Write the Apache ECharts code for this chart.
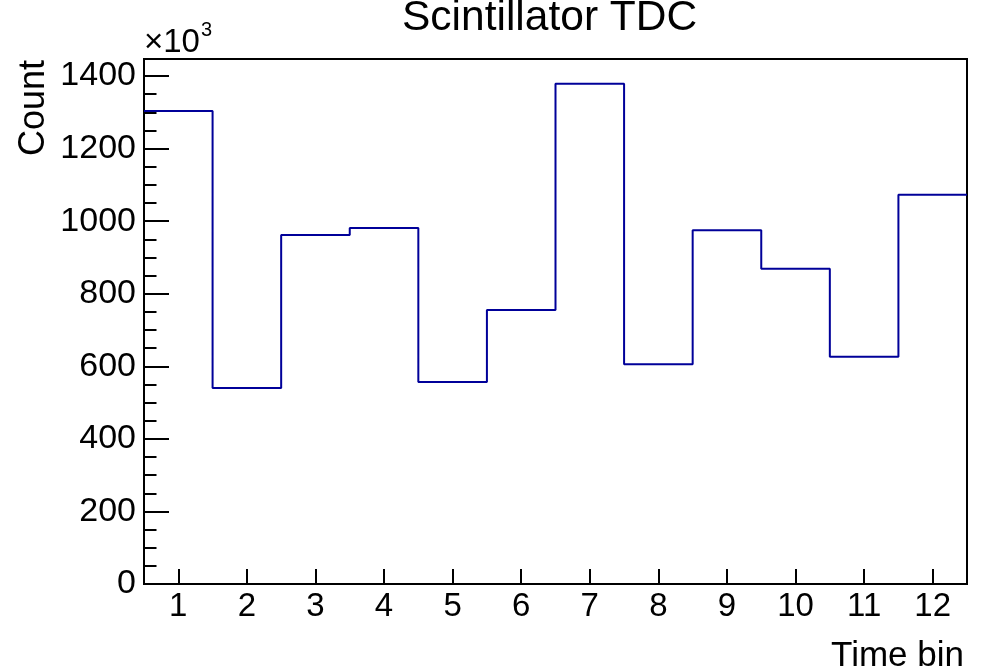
<!DOCTYPE html>
<html>
<head>
<meta charset="utf-8">
<script src="https://cdn.jsdelivr.net/npm/echarts@6/dist/echarts.min.js"></script>
<style>
html,body{margin:0;padding:0;background:#fff;}
#chart{width:982px;height:671px;}
</style>
</head>
<body>
<div id="chart"></div>
<script>
// Histogram data (counts in units of 10^3)
const binCenters = [1, 2, 3, 4, 5, 6, 7, 8, 9, 10, 11, 12];
const counts = [1304, 540, 962, 981, 557, 755, 1379, 606, 975, 869, 626, 1073];
const yMajorTicks = [0, 200, 400, 600, 800, 1000, 1200, 1400];
const yMinorTicks = [50, 100, 150, 250, 300, 350, 450, 500, 550, 650, 700, 750, 850, 900, 950, 1050, 1100, 1150, 1250, 1300, 1350];
const xLow = 0.5, xHigh = 12.5, yMax = 1447;

// step points at bin low edges, plus final high edge
const stepData = counts.map((v, i) => [binCenters[i] - 0.5, v]);
stepData.push([binCenters[binCenters.length - 1] + 0.5, counts[counts.length - 1]]);

const FONT = 'Liberation Sans';
const chart = echarts.init(document.getElementById('chart'), null, {renderer: 'canvas'});
chart.setOption({
  animation: false,
  backgroundColor: '#fff',
  title: {
    text: 'Scintillator TDC',
    left: 397, top: -8,
    textStyle: {fontFamily: FONT, fontSize: 42.5, fontWeight: 'normal', color: '#000'}
  },
  grid: {left: 144, top: 59, right: 15, bottom: 87, show: true, borderColor: '#000', borderWidth: 2, backgroundColor: 'transparent'},
  xAxis: {
    type: 'value', min: xLow, max: xHigh,
    axisLine: {show: true, lineStyle: {color: '#000', width: 2}},
    axisTick: {show: true, inside: true, length: 15, customValues: binCenters, lineStyle: {color: '#000', width: 2}},
    axisLabel: {show: true, customValues: binCenters, margin: 6, fontFamily: FONT, fontSize: 33, color: '#000',
      formatter: v => String(v)},
    splitLine: {show: false}
  },
  yAxis: [{
    type: 'value', min: 0, max: yMax,
    axisLine: {show: true, lineStyle: {color: '#000', width: 2}},
    axisTick: {show: true, inside: true, length: 25, customValues: yMajorTicks, lineStyle: {color: '#000', width: 2}},
    axisLabel: {show: true, customValues: yMajorTicks, margin: 8, fontFamily: FONT, fontSize: 34, color: '#000',
      padding: [5, 0, 0, 0], formatter: v => String(v)},
    splitLine: {show: false}
  }, {
    type: 'value', min: 0, max: yMax, position: 'left',
    axisLine: {show: false},
    axisTick: {show: true, inside: true, length: 12.5, customValues: yMinorTicks, lineStyle: {color: '#000', width: 2}},
    axisLabel: {show: false},
    splitLine: {show: false}
  }],
  graphic: [
    {type: 'text', left: 16, top: 60, rotation: Math.PI / 2,
      style: {text: 'Count', fontFamily: FONT, fontSize: 36, fill: '#000'}},
    {type: 'text', right: 18, top: 639,
      style: {text: 'Time bin', fontFamily: FONT, fontSize: 35, fill: '#000'}},
    {type: 'text', left: 144, top: 26,
      style: {text: '×10', fontFamily: FONT, fontSize: 33, fill: '#000'}},
    {type: 'text', left: 201, top: 20,
      style: {text: '3', fontFamily: FONT, fontSize: 20, fill: '#000'}}
  ],
  series: [{
    type: 'line', step: 'end', data: stepData, symbol: 'none',
    lineStyle: {color: '#000099', width: 2}, silent: true
  }]
});
</script>
</body>
</html>
